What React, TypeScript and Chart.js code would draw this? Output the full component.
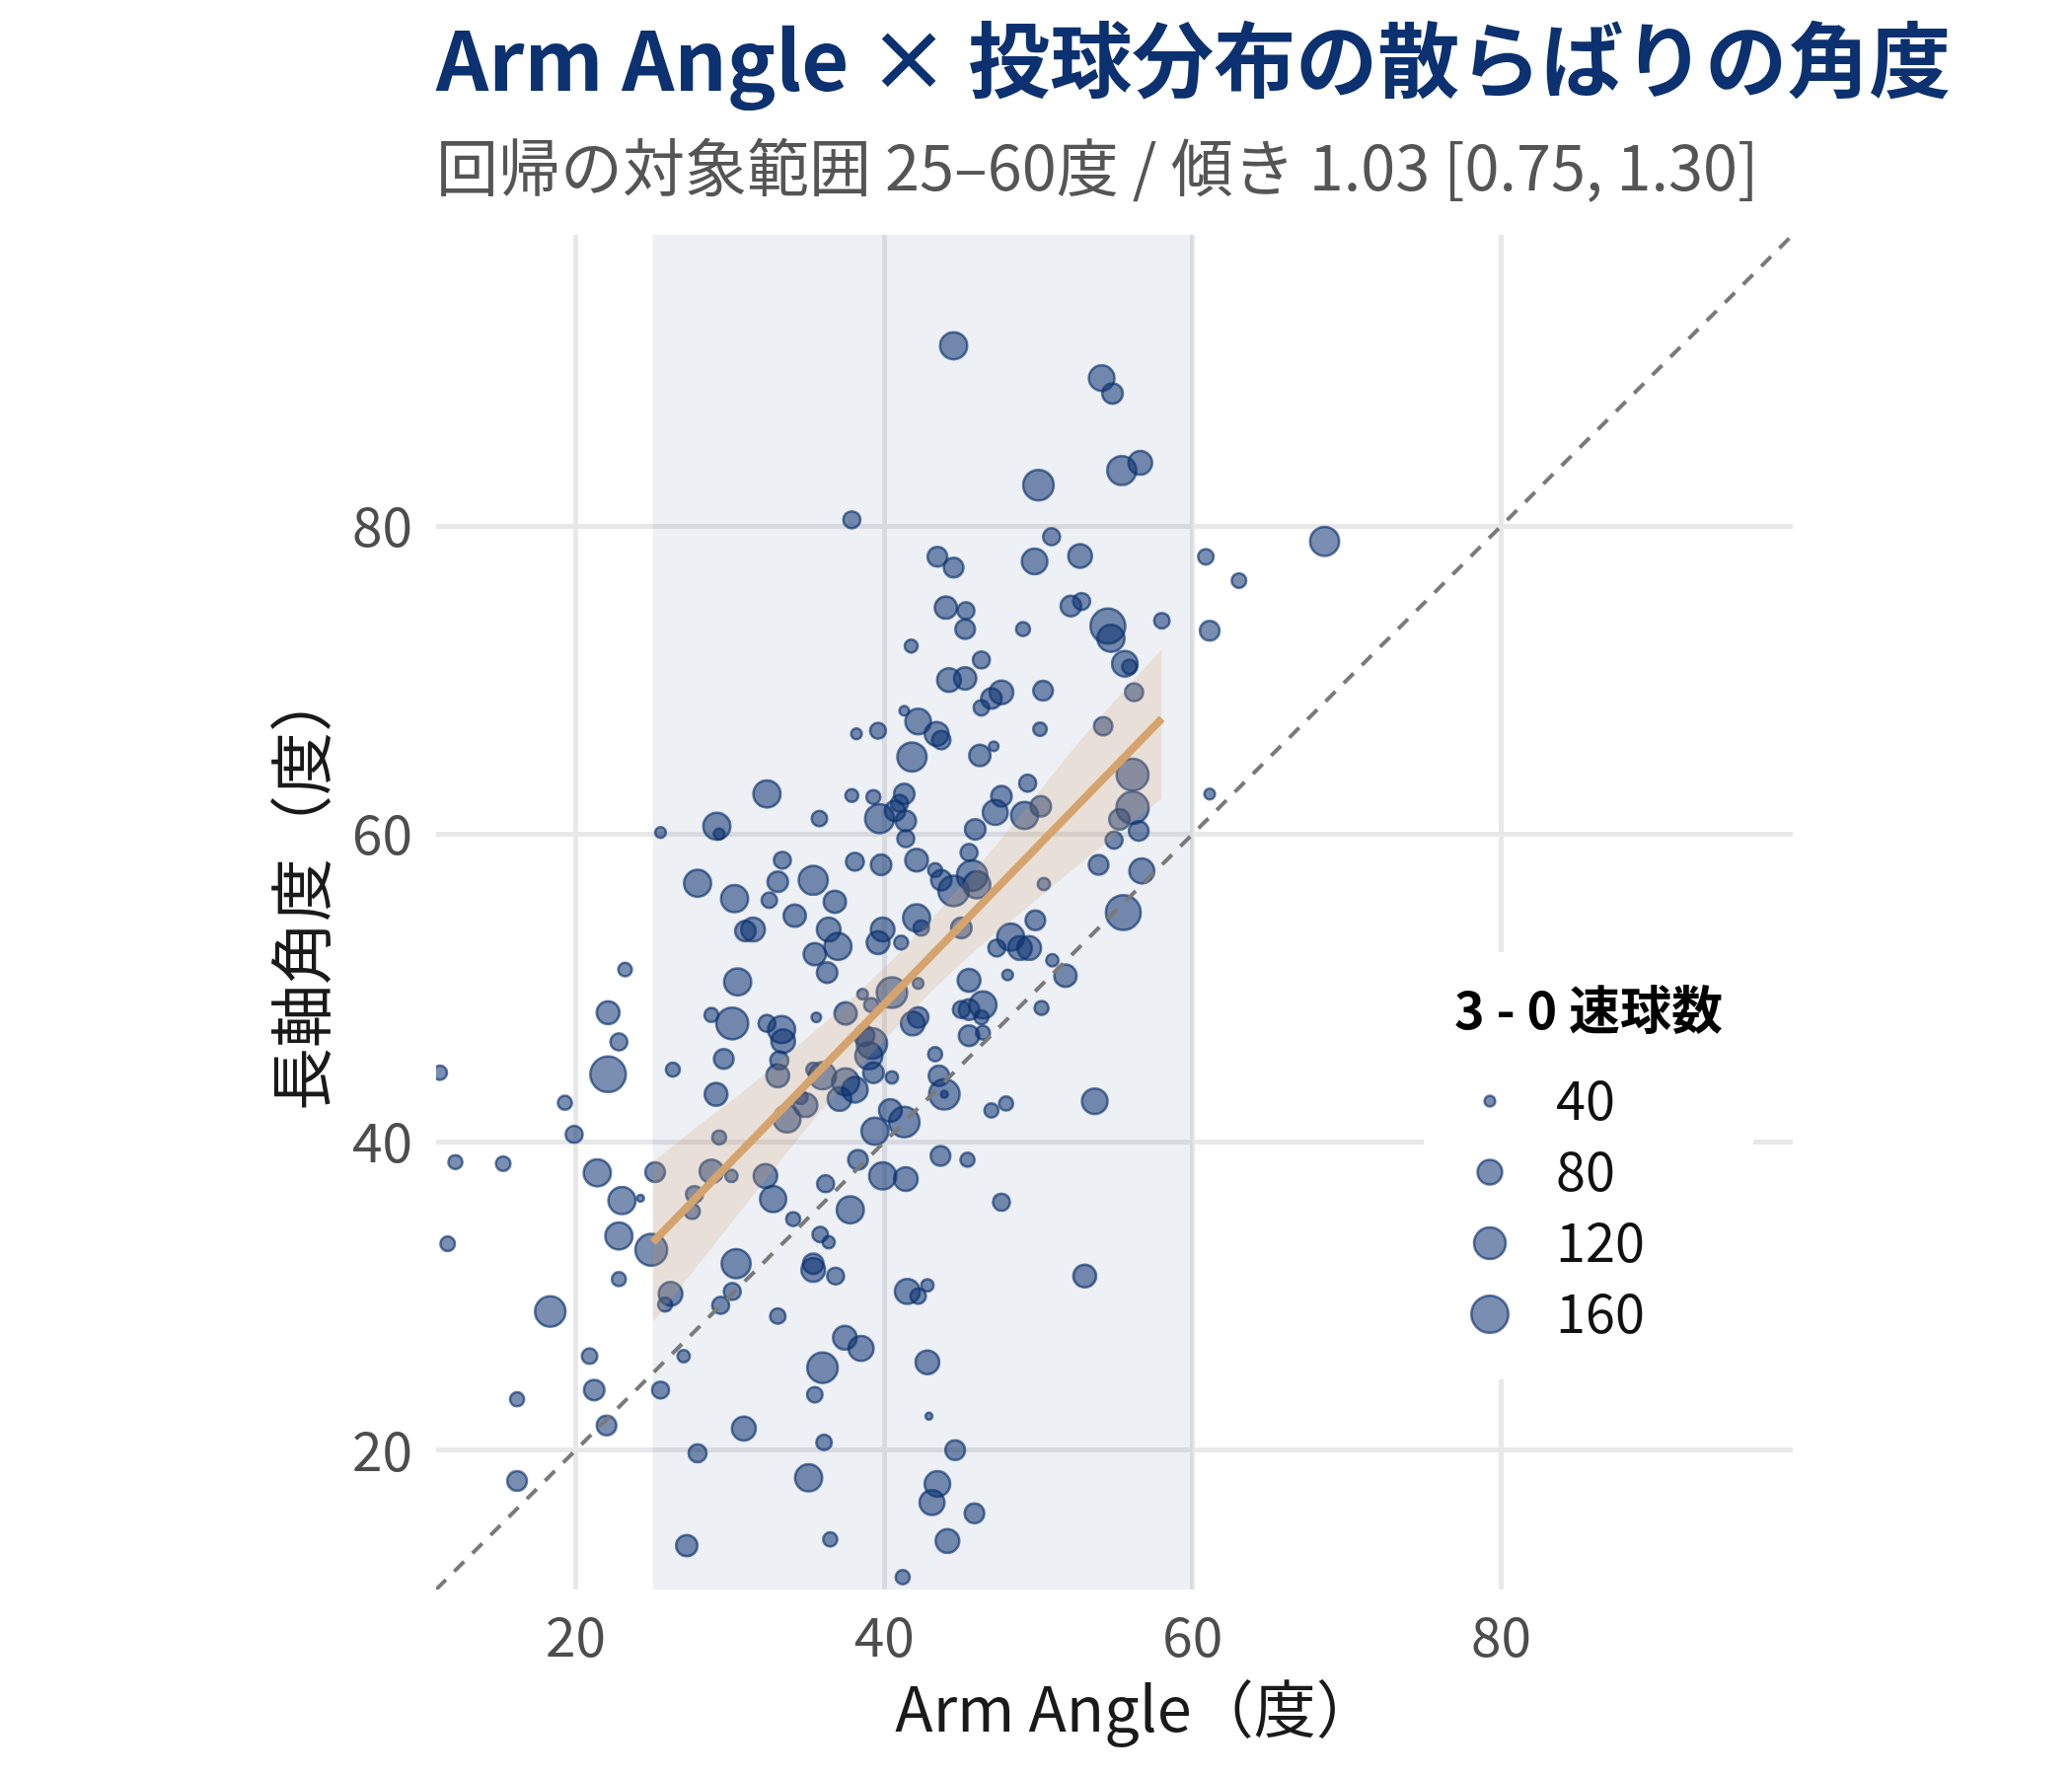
import React, { useEffect, useRef } from "react";
import { Chart, registerables } from "chart.js";
Chart.register(...registerables);

const FONT = '"Noto Sans CJK JP", "Noto Sans", sans-serif';

// ---- data ----
const armAngle = [
  44.5, 54.1, 54.8, 50.0, 55.4, 56.6, 37.9, 68.55, 50.85, 60.85, 63.0, 43.45, 44.5, 49.75, 52.7, 44.0, 45.3, 45.25, 52.1, 52.8,
  49.0, 54.5, 54.7, 58.0, 61.1, 41.75, 46.3, 55.6, 55.9, 44.2, 45.25, 50.3, 56.2, 47.6, 46.95, 46.3, 41.3, 42.2, 54.2, 39.6,
  38.2, 43.4, 43.7, 41.8, 46.2, 47.1, 50.1, 56.1, 32.4, 37.9, 39.3, 41.3, 41.0, 49.3, 47.6, 47.2, 50.15, 49.1, 56.1, 55.25,
  61.1, 35.8, 39.7, 40.7, 41.4, 29.15, 29.3, 25.5, 41.4, 45.9, 56.5, 54.9, 33.4, 38.1, 39.8, 42.1, 45.5, 53.9, 56.7, 27.9,
  33.1, 35.4, 36.8, 43.3, 43.7, 45.7, 46.0, 44.5, 50.35, 30.3, 32.55, 34.2, 55.5, 42.1, 42.4, 49.8, 31.0, 31.5, 36.4, 37.0,
  39.6, 39.9, 41.1, 45.0, 48.2, 48.8, 49.4, 47.3, 50.9, 51.75, 23.2, 30.5, 35.5, 36.3, 48.0, 38.6, 40.5, 39.15, 45.5, 42.2,
  22.1, 28.8, 30.15, 33.35, 32.4, 37.5, 35.6, 41.85, 42.2, 45.0, 45.5, 46.3, 46.4, 45.5, 46.4, 50.2, 22.8, 22.1, 29.6, 26.3,
  33.45, 33.2, 33.1, 39.2, 39.0, 38.7, 39.3, 40.5, 36.0, 35.4, 43.3, 43.55, 37.5, 38.1, 37.1, 29.1, 19.3, 43.9, 43.9, 47.9,
  46.95, 53.65, 34.9, 34.6, 40.4, 41.3, 33.7, 11.2, 19.9, 29.3, 39.4, 43.65, 45.4, 12.2, 15.3, 21.4, 25.15, 28.8, 30.1, 32.3,
  38.3, 39.9, 41.4, 36.2, 27.7, 23.0, 32.8, 24.2, 37.8, 47.6, 34.1, 27.55, 22.8, 11.7, 24.9, 35.85, 36.4, 30.4, 35.4, 35.4,
  36.85, 53.0, 22.8, 41.5, 42.2, 42.8, 30.15, 26.15, 29.4, 25.8, 18.35, 33.1, 37.45, 38.5, 20.9, 27.0, 36.0, 42.8, 21.2, 25.5,
  35.5, 16.2, 42.9, 22.0, 30.9, 36.1, 27.9, 44.6, 16.2, 35.1, 43.45, 43.1, 45.85, 36.5, 27.2, 44.1, 41.2,
];
const axisAngle = [
  91.7, 89.6, 88.6, 82.65, 83.6, 84.1, 80.4, 79.0, 79.3, 78.0, 76.45, 78.0, 77.3, 77.7, 78.05, 74.7, 74.5, 73.3, 74.8, 75.1,
  73.3, 73.5, 72.7, 73.85, 73.2, 72.2, 71.3, 71.05, 70.85, 70.0, 70.1, 69.3, 69.2, 69.2, 68.8, 68.2, 68.0, 67.3, 67.0, 66.7,
  66.5, 66.5, 66.1, 65.0, 65.1, 65.7, 66.8, 63.85, 62.6, 62.5, 62.4, 62.6, 62.0, 63.3, 62.45, 61.4, 61.8, 61.2, 61.7, 60.95,
  62.6, 61.0, 61.0, 61.5, 60.85, 60.5, 60.0, 60.1, 59.7, 60.3, 60.2, 59.6, 58.3, 58.2, 58.0, 58.3, 58.8, 58.0, 57.6, 56.8,
  56.9, 57.0, 55.6, 57.65, 57.0, 57.3, 56.7, 56.3, 56.75, 55.8, 55.7, 54.7, 54.9, 54.55, 53.9, 54.4, 53.7, 53.8, 53.8, 52.7,
  52.95, 53.8, 52.95, 53.9, 53.3, 52.6, 52.6, 52.6, 51.8, 50.8, 51.2, 50.4, 52.2, 51.0, 50.85, 49.6, 49.7, 48.9, 50.5, 50.3,
  48.4, 48.25, 47.7, 47.3, 47.7, 48.35, 48.1, 47.7, 48.1, 48.6, 48.6, 48.1, 48.9, 46.9, 47.1, 48.7, 46.5, 44.4, 45.4, 44.7,
  46.55, 45.3, 44.3, 46.4, 45.6, 46.9, 44.5, 44.2, 44.3, 44.7, 45.7, 44.3, 43.9, 43.4, 42.8, 43.1, 42.55, 43.1, 43.1, 42.5,
  42.05, 42.65, 42.4, 42.9, 42.05, 41.3, 41.5, 44.5, 40.5, 40.3, 40.7, 39.1, 38.85, 38.7, 38.6, 38.0, 38.05, 38.1, 37.8, 37.8,
  38.85, 37.8, 37.6, 37.3, 36.6, 36.2, 36.3, 36.35, 35.6, 36.1, 35.0, 35.5, 33.9, 33.4, 33.0, 34.0, 33.5, 32.1, 31.7, 32.1,
  31.3, 31.3, 31.1, 30.3, 30.0, 30.7, 30.3, 30.15, 29.4, 29.45, 29.0, 28.7, 27.3, 26.6, 26.1, 26.1, 25.35, 25.7, 23.9, 23.9,
  23.6, 23.3, 22.2, 21.6, 21.4, 20.5, 19.8, 20.0, 18.0, 18.2, 17.8, 16.6, 15.9, 14.2, 13.8, 14.1, 11.75,
];
const fastballCount = [
  93, 85, 63, 113, 104, 76, 52, 104, 52, 48, 46, 60, 60, 85, 76, 70, 52, 60, 63, 52,
  45, 143, 93, 48, 60, 43, 52, 85, 46, 76, 70, 60, 55, 76, 63, 48, 39, 85, 56, 49,
  40, 77, 56, 105, 66, 39, 44, 122, 93, 43, 45, 63, 52, 52, 63, 82, 63, 93, 125, 63,
  40, 48, 104, 63, 63, 93, 40, 40, 52, 63, 60, 52, 52, 55, 63, 72, 52, 60, 82, 93,
  63, 104, 70, 45, 63, 113, 93, 113, 42, 93, 48, 70, 143, 93, 48, 60, 63, 76, 76, 93,
  72, 76, 45, 63, 93, 76, 76, 52, 42, 70, 44, 93, 70, 63, 40, 40, 113, 45, 72, 40,
  72, 45, 122, 93, 52, 70, 39, 76, 63, 52, 63, 45, 93, 63, 45, 45, 52, 149, 60, 45,
  76, 55, 72, 113, 93, 63, 63, 42, 93, 45, 45, 63, 93, 85, 76, 72, 45, 113, 38, 45,
  45, 85, 76, 44, 72, 113, 93, 45, 52, 45, 93, 60, 45, 45, 46, 93, 60, 76, 42, 76,
  60, 93, 76, 52, 52, 93, 88, 38, 93, 52, 45, 48, 93, 46, 122, 48, 42, 104, 76, 63,
  52, 72, 45, 82, 48, 42, 52, 76, 52, 45, 113, 48, 76, 82, 48, 42, 113, 76, 63, 52,
  48, 45, 38, 60, 77, 48, 55, 60, 60, 93, 85, 82, 60, 45, 66, 76, 45,
];

// regression fit (fitted line) and its confidence band
const fitX = [25, 58];
const fitY = [33.5, 67.5];
const bandX = [25, 28, 31, 34, 37, 40, 43, 46, 49, 52, 55, 58];
const bandLower = [28.3, 32.1, 35.9, 39.7, 43.3, 46.6, 49.7, 52.5, 55.0, 57.5, 59.9, 62.3];
const bandUpper = [38.7, 41.1, 43.4, 45.9, 48.5, 51.3, 54.4, 57.8, 61.4, 65.2, 68.7, 72.0];
const fitRange = [25, 60];
const axisMin = 10.95;
const axisMax = 98.9;
const tickValues = [20, 40, 60, 80];
const legendBreaks = [40, 80, 120, 160];

const TITLE = "Arm Angle × 投球分布の散らばりの角度";
const SUBTITLE = "回帰の対象範囲 25–60度 / 傾き 1.03 [0.75, 1.30]";
const X_TITLE = "Arm Angle（度）";
const Y_TITLE = "長軸角度（度）";
const LEGEND_TITLE = "3 - 0 速球数";

// ---- styles ----
const NAVY = "#0b3170";
const POINT_FILL = "rgba(11,49,112,0.55)";
const POINT_BORDER = "rgba(11,49,112,0.65)";
const POINT_BW = 2.5;
const outerRadius = (n: number) => 4.75 + 15.87 * Math.sqrt(Math.max(0, (n - 38) / 132));

function drawPoint(ctx: CanvasRenderingContext2D, x: number, y: number, n: number) {
  const r = outerRadius(n) - POINT_BW / 2;
  ctx.beginPath();
  ctx.arc(x, y, r, 0, Math.PI * 2);
  ctx.fillStyle = POINT_FILL;
  ctx.fill();
  ctx.lineWidth = POINT_BW;
  ctx.strokeStyle = POINT_BORDER;
  ctx.stroke();
}

const shadePlugin = {
  id: "shade",
  beforeDatasetsDraw(chart: any) {
    const { ctx, chartArea, scales } = chart;
    const x0 = scales.x.getPixelForValue(fitRange[0]);
    const x1 = scales.x.getPixelForValue(fitRange[1]);
    ctx.save();
    ctx.fillStyle = "rgba(11,49,112,0.075)";
    ctx.fillRect(x0, chartArea.top, x1 - x0, chartArea.bottom - chartArea.top);
    ctx.restore();
  },
};

const decorPlugin = {
  id: "decor",
  afterDraw(chart: any) {
    const { ctx } = chart;
    ctx.save();
    // titles
    ctx.textAlign = "left";
    ctx.textBaseline = "alphabetic";
    ctx.fillStyle = NAVY;
    ctx.font = `700 83px ${FONT}`;
    ctx.fillText(TITLE, 442, 92);
    ctx.fillStyle = "#555555";
    ctx.font = `400 63px ${FONT}`;
    ctx.fillText(SUBTITLE, 442, 193);

    // axis titles
    ctx.fillStyle = "#1a1a1a";
    ctx.textAlign = "center";
    ctx.textBaseline = "middle";
    ctx.font = `400 63px ${FONT}`;
    ctx.fillText(X_TITLE, 1152, 1731);
    ctx.save();
    ctx.translate(305, 902);
    ctx.rotate(-Math.PI / 2);
    ctx.font = `400 64px ${FONT}`;
    ctx.fillText(Y_TITLE, 0, 0);
    ctx.restore();

    // legend
    ctx.textAlign = "left";
    ctx.textBaseline = "alphabetic";
    const bx = 1443, by = 965, bw = 334, bh = 433;
    ctx.fillStyle = "#ffffff";
    ctx.fillRect(bx, by, bw, bh);
    ctx.fillStyle = "#000000";
    ctx.font = `700 52px ${FONT}`;
    ctx.fillText(LEGEND_TITLE, 1474, 1043);
    ctx.font = `400 54px ${FONT}`;
    ctx.textBaseline = "middle";
    legendBreaks.forEach((v, i) => {
      const cy = 1116 + i * 72;
      drawPoint(ctx, 1510, cy, v);
      ctx.fillStyle = "#111111";
      ctx.fillText(String(v), 1577, cy - 2);
    });
    ctx.restore();
  },
};

export default function App() {
  const ref = useRef<HTMLCanvasElement>(null);

  useEffect(() => {
    let chart: Chart | null = null;
    let cancelled = false;

    const build = () => {
      if (cancelled || !ref.current) return;
      const points = armAngle.map((x, i) => ({ x, y: axisAngle[i] }));
      chart = new Chart(ref.current, {
        type: "scatter",
        data: {
          datasets: [
            {
              type: "line",
              label: "diag",
              data: [
                { x: axisMin, y: axisMin },
                { x: axisMax, y: axisMax },
              ],
              borderColor: "#7a7a7a",
              borderWidth: 4,
              borderDash: [14, 12],
              pointRadius: 0,
              fill: false,
              order: 0,
            } as any,
            {
              type: "line",
              label: "fit",
              data: fitX.map((x, i) => ({ x, y: fitY[i] })),
              borderColor: "#d5a36d",
              borderWidth: 8,
              pointRadius: 0,
              fill: false,
              order: 1,
            } as any,
            {
              type: "line",
              label: "lower",
              data: bandX.map((x, i) => ({ x, y: bandLower[i] })),
              borderWidth: 0,
              borderColor: "rgba(0,0,0,0)",
              pointRadius: 0,
              fill: false,
              cubicInterpolationMode: "monotone",
              order: 3,
            } as any,
            {
              type: "line",
              label: "upper",
              data: bandX.map((x, i) => ({ x, y: bandUpper[i] })),
              borderWidth: 0,
              borderColor: "rgba(0,0,0,0)",
              backgroundColor: "rgba(212,165,116,0.22)",
              pointRadius: 0,
              fill: "-1",
              cubicInterpolationMode: "monotone",
              order: 2,
            } as any,
            {
              type: "scatter",
              label: "pitchers",
              data: points,
              backgroundColor: POINT_FILL,
              borderColor: POINT_BORDER,
              borderWidth: POINT_BW,
              pointRadius: (c: any) => outerRadius(fastballCount[c.dataIndex]) - POINT_BW / 2,
              pointHoverRadius: (c: any) => outerRadius(fastballCount[c.dataIndex]) - POINT_BW / 2,
              order: 4,
            } as any,
          ],
        },
        options: {
          responsive: false,
          maintainAspectRatio: false,
          devicePixelRatio: 1,
          animation: false,
          events: [],
          layout: { padding: { left: 0, top: 238, right: 283, bottom: 0 } },
          plugins: {
            legend: { display: false },
            tooltip: { enabled: false },
            title: { display: false },
          },
          scales: {
            x: {
              type: "linear",
              min: axisMin,
              max: axisMax,
              afterBuildTicks: (s: any) => {
                s.ticks = tickValues.map((v) => ({ value: v }));
              },
              afterFit: (s: any) => {
                s.height = 189;
              },
              grid: { color: "#e8e8e8", lineWidth: 5, drawTicks: false },
              border: { display: false },
              ticks: {
                color: "#4d4d4d",
                font: { family: FONT, size: 55 },
                padding: 14,
                callback: (v: any) => String(v),
              },
              title: { display: false },
            },
            y: {
              type: "linear",
              min: axisMin,
              max: axisMax,
              afterBuildTicks: (s: any) => {
                s.ticks = tickValues.map((v) => ({ value: v }));
              },
              afterFit: (s: any) => {
                s.width = 442;
              },
              grid: { color: "#e8e8e8", lineWidth: 5, drawTicks: false },
              border: { display: false },
              ticks: {
                color: "#4d4d4d",
                font: { family: FONT, size: 55 },
                padding: 24,
                callback: (v: any) => String(v),
              },
              title: { display: false },
            },
          },
        },
        plugins: [shadePlugin, decorPlugin],
      });
    };

    const fontsReady = (document as any).fonts
      ? Promise.all([
          (document as any).fonts.load(`700 83px "Noto Sans CJK JP"`),
          (document as any).fonts.load(`400 63px "Noto Sans CJK JP"`),
        ]).catch(() => null)
      : Promise.resolve(null);
    fontsReady.then(build);

    return () => {
      cancelled = true;
      if (chart) chart.destroy();
    };
  }, []);

  return (
    <div style={{ position: "absolute", left: 0, top: 0, width: 2100, height: 1800, background: "#ffffff" }}>
      <canvas ref={ref} width={2100} height={1800} style={{ width: 2100, height: 1800, display: "block" }} />
    </div>
  );
}
